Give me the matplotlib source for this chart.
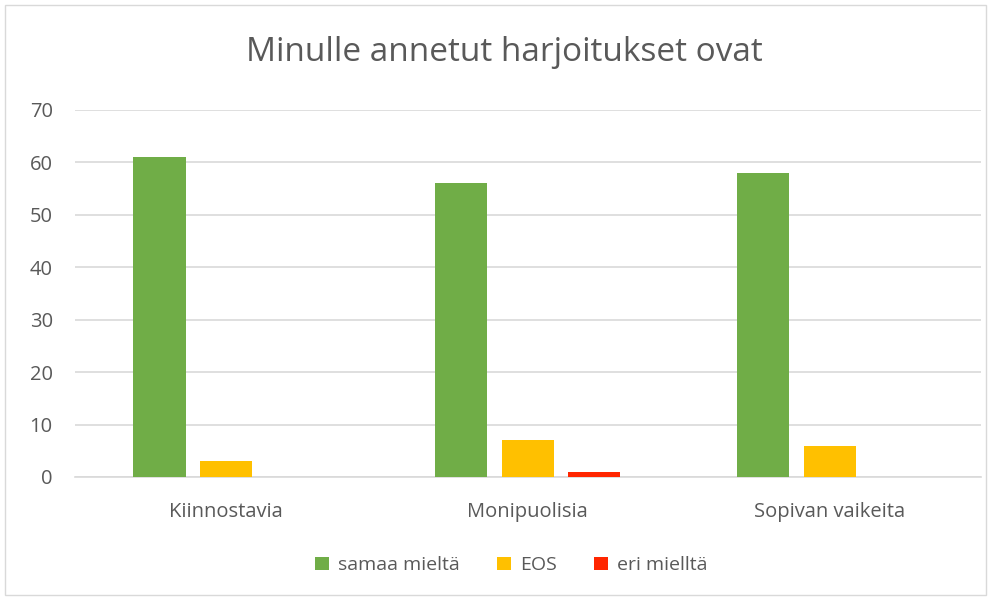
import matplotlib

matplotlib.use("Agg")
import matplotlib.pyplot as plt
import numpy as np
from matplotlib.patches import Rectangle

categories = ["Kiinnostavia", "Monipuolisia", "Sopivan vaikeita"]
series_names = ["samaa mieltä", "EOS", "eri mielltä"]
samaa = [61, 56, 58]
eos = [3, 7, 6]
eri = [0, 1, 0]
colors = ["#70ad47", "#ffc000", "#ff2600"]

plt.rcParams["font.family"] = ["Open Sans", "DejaVu Sans"]
text_color = "#595959"

fig = plt.figure(figsize=(9.93, 6), dpi=100)
fig.patches.append(Rectangle((0.005, 0.008), 0.988, 0.984, transform=fig.transFigure,
                             fill=False, edgecolor="#d9d9d9", linewidth=1))
ax = fig.add_axes([0.0755, 0.205, 0.912, 0.612])

x = np.arange(len(categories))
width = 0.173
step = 0.22
for i, (vals, name) in enumerate(zip([samaa, eos, eri], series_names)):
    ax.bar(x + (i - 1) * step, vals, width, color=colors[i], label=name, zorder=3)

ax.set_xlim(-0.5, len(categories) - 0.5)
ax.set_ylim(0, 70)
ax.set_yticks(range(0, 71, 10))
ax.yaxis.grid(True, color="#d9d9d9", linewidth=1.2, zorder=0)
ax.set_xticks(x)
ax.set_xticklabels(categories)
ax.tick_params(axis="both", length=0, colors=text_color, labelsize=14.5)
ax.tick_params(axis="x", pad=18)
ax.tick_params(axis="y", pad=16)
for side in ["top", "right", "left"]:
    ax.spines[side].set_visible(False)
ax.spines["bottom"].set_color("#d9d9d9")
ax.spines["bottom"].set_linewidth(1.2)

fig.suptitle("Minulle annetut harjoitukset ovat", x=0.508, y=0.94, fontsize=24,
             color=text_color)

fig.legend(loc="center", bbox_to_anchor=(0.515, 0.058), ncol=3, frameon=False,
           fontsize=14, handlelength=0.7, handleheight=0.7, handletextpad=0.5,
           columnspacing=1.9, labelcolor=text_color)

fig.savefig("out.png", dpi=100)
